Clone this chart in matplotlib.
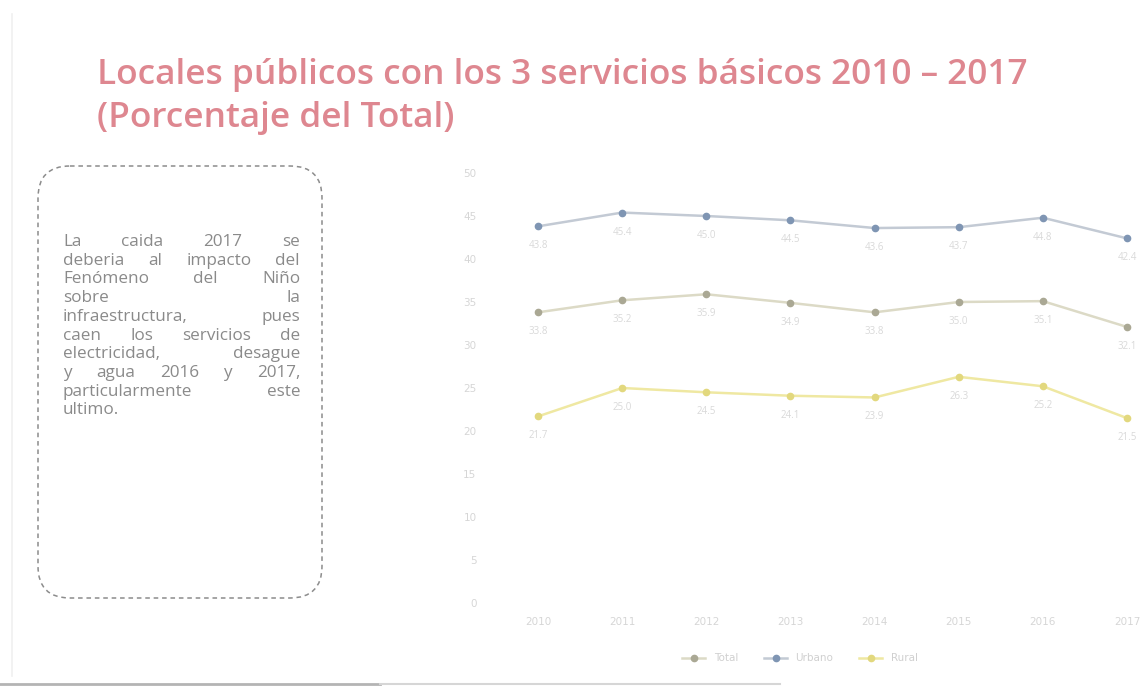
import matplotlib
matplotlib.use("Agg")
import matplotlib.pyplot as plt
from matplotlib.patches import FancyBboxPatch
import numpy as np

years = ["2010", "2011", "2012", "2013", "2014", "2015", "2016", "2017"]
serie_urbano = [43.8, 45.4, 45.0, 44.5, 43.6, 43.7, 44.8, 42.4]
serie_total = [33.8, 35.2, 35.9, 34.9, 33.8, 35.0, 35.1, 32.1]
serie_rural = [21.7, 25.0, 24.5, 24.1, 23.9, 26.3, 25.2, 21.5]
yticks = [0, 5, 10, 15, 20, 25, 30, 35, 40, 45, 50]

title_lines = ["Locales públicos con los 3 servicios básicos 2010 – 2017",
               "(Porcentaje del Total)"]
note_lines = ["La caida 2017 se",
              "deberia al impacto del",
              "Fenómeno del Niño",
              "sobre la",
              "infraestructura, pues",
              "caen los servicios de",
              "electricidad, desague",
              "y agua 2016 y 2017,",
              "particularmente este",
              "ultimo."]

W, H = 1147, 691
fig = plt.figure(figsize=(W / 100, H / 100), dpi=100)
fig.patch.set_facecolor("white")

# overlay axes in pixel coordinates for the title, box and frame lines
ov = fig.add_axes([0, 0, 1, 1])
ov.set_xlim(0, W)
ov.set_ylim(H, 0)
ov.axis("off")

renderer = fig.canvas.get_renderer()

# title, fitted to the width it has in the scan
tcol = "#de8790"
tfam = ["Open Sans", "DejaVu Sans"]
t1 = ov.text(97, 84, title_lines[0], fontsize=20, color=tcol, family=tfam,
             weight="semibold", va="baseline", ha="left")
w1 = t1.get_window_extent(renderer).width
fs = 20 * 933 / w1
t1.set_fontsize(fs)
ov.text(97, 127, title_lines[1], fontsize=fs, color=tcol, family=tfam,
        weight="semibold", va="baseline", ha="left")

# dashed rounded note box
box = FancyBboxPatch((38, 166), 284, 432, boxstyle="round,pad=0,rounding_size=32",
                     fill=False, ec="#8c8c8c", lw=1.1, ls=(0, (3, 2.5)))
ov.add_patch(box)

# justified note text
x_left, x_right = 63, 300
y0, dy = 242, 18.7
ncol = "#8a8a8a"
nfam = "Open Sans"
nfs = 12.3
for i, line in enumerate(note_lines):
    y = y0 + i * dy
    words = line.split()
    if i == len(note_lines) - 1 or len(words) == 1:
        ov.text(x_left, y, line, fontsize=nfs, color=ncol, family=nfam,
                va="center", ha="left")
        continue
    texts = [ov.text(0, y, w, fontsize=nfs, color=ncol, family=nfam,
                     va="center", ha="left") for w in words]
    widths = [t.get_window_extent(renderer).width for t in texts]
    gap = (x_right - x_left - sum(widths)) / (len(words) - 1)
    x = x_left
    for t, w in zip(texts, widths):
        t.set_x(x)
        x += w + gap

# faint frame lines of the scanned page
ov.plot([12, 12], [14, 676], color="#f0f0f0", lw=1.2)
ov.plot([0, 380], [684, 684], color="#b4b4b4", lw=2)
ov.plot([380, 780], [684, 684], color="#d6d6d6", lw=1.5)

# chart axes (pixel placement: x 496..1147, y 173..603)
ax = fig.add_axes([496 / W, (H - 603) / H, (W - 496) / W, (603 - 173) / H])
ax.set_facecolor("none")
x = np.arange(len(years))

series = [
    ("Total", serie_total, "#dcdac6", "#aaa894"),
    ("Urbano", serie_urbano, "#c3cad4", "#7f95b3"),
    ("Rural", serie_rural, "#efe8a2", "#e2d87e"),
]
for name, vals, lc, mc in series:
    ax.plot(x, vals, color=lc, lw=1.8, marker="o", markersize=4.5,
            markerfacecolor=mc, markeredgecolor=mc, label=name, clip_on=False)
    for xi, v in zip(x, vals):
        ax.annotate(f"{v:.1f}", (xi, v), xytext=(0, -14), textcoords="offset points",
                    ha="center", va="center", fontsize=7, color="#d9d9d9",
                    family="Open Sans", annotation_clip=False)

ax.set_xlim(-0.5, (1147 - 538) / 84.14)
ax.set_ylim(0, 50)
ax.set_xticks(x)
ax.set_xticklabels(years)
ax.set_yticks(yticks)
for s in ax.spines.values():
    s.set_visible(False)
ax.tick_params(axis="both", length=0, labelsize=7.5, labelcolor="#d6d6d6")
ax.tick_params(axis="y", pad=14)
ax.tick_params(axis="x", pad=10)

leg = ax.legend(loc="upper center", bbox_to_anchor=((800 - 496) / (W - 496), -0.095),
                ncol=3, frameon=False, fontsize=7.5, handlelength=2.2,
                columnspacing=2.5)
for t in leg.get_texts():
    t.set_color("#d0d0d0")

fig.savefig("out.png", dpi=100, facecolor="white")
